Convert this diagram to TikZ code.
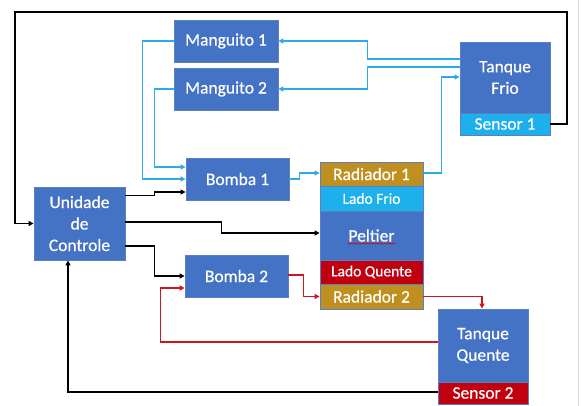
\documentclass[tikz,border=0pt]{standalone}
\usepackage{fontspec}
\setmainfont{Carlito}[FakeBold=0.5]
\usetikzlibrary{arrows.meta,calc,decorations.pathmorphing}
\definecolor{boxblue}{HTML}{4472C4}
\definecolor{boxedge}{HTML}{5B7FC2}
\definecolor{cyanfill}{HTML}{1EB0EC}
\definecolor{cyanline}{HTML}{2BACE6}
\definecolor{gold}{HTML}{BF9020}
\definecolor{redfill}{HTML}{C0000F}
\definecolor{redline}{HTML}{D0141E}
\begin{document}
\begin{tikzpicture}[x=1pt,y=-1pt,
  blk/.style={rectangle,draw=boxedge,line width=0.8pt,fill=boxblue,text=white,
    inner sep=0pt,align=center,font=\fontsize{17.5}{21.5}\selectfont},
  sub/.style={blk,font=\fontsize{15.5}{18}\selectfont},
  tip/.style={-{Triangle[length=5pt,width=5pt]}},
  ctl/.style={tip,draw=black,line width=1.6pt},
  cold/.style={tip,draw=cyanline,line width=1.4pt},
  hot/.style={tip,draw=redline,line width=1.4pt}]
\useasboundingbox (0,0) rectangle (582,406);
\fill[white] (0,0) rectangle (582,406);
\draw[gray!30,line width=0.8pt] (578,0) -- (578,406);

% blocks
\node[blk,minimum width=104,minimum height=42] (m1) at (226,41) {Manguito 1};
\node[blk,minimum width=104,minimum height=42] (m2) at (226,89) {Manguito 2};
\node[blk,minimum width=103,minimum height=42] (b1) at (237.5,179) {Bomba 1};
\node[blk,minimum width=103,minimum height=42] (b2) at (236.5,276) {Bomba 2};
\node[blk,minimum width=91,minimum height=73] (uc) at (79.5,223.5) {Unidade\\de\\Controle};

\node[blk,minimum width=90,minimum height=71] (tf) at (505,77.5) {Tanque\\Frio};
\node[blk,fill=cyanfill,minimum width=90,minimum height=22] (s1) at (505,124) {Sensor 1};
\node[blk,minimum width=90,minimum height=73] (tq) at (483,345.5) {Tanque\\Quente};
\node[blk,fill=redfill,minimum width=90,minimum height=22] (s2) at (483,393) {Sensor 2};

\node[blk,fill=gold,minimum width=103,minimum height=24] (r1) at (371.5,174) {Radiador 1};
\node[sub,fill=cyanfill,minimum width=103,minimum height=25] (lf) at (371.5,198.5) {Lado Frio};
\node[blk,minimum width=103,minimum height=49] (pel) at (371.5,235.5) {Peltier};
\node[sub,fill=redfill,minimum width=103,minimum height=24] (lq) at (371.5,272) {Lado Quente};
\node[blk,fill=gold,minimum width=103,minimum height=25] (r2) at (371.5,296.5) {Radiador 2};
\draw[red!85!black,line width=0.5pt,decorate,decoration={snake,amplitude=0.7pt,segment length=2.6pt}]
  ($(pel.center)+(-24,8)$) -- ($(pel.center)+(24,8)$);

% control lines
\coordinate (tr) at (567,12);
\coordinate (tl) at (15,12);
\draw[ctl] (s1.east) -| (tr) -- (tl) |- (uc.west);
\draw[ctl] ($(uc.east)+(0,-28)$) -- ++(29,0) |- ($(b1.west)+(0,13)$);
\draw[ctl] ($(uc.east)+(0,-1.5)$) -- ++(96,0) |- ($(pel.west)+(0,-2.5)$);
\draw[ctl] ($(uc.east)+(0,22.5)$) -- ++(29,0) |- (b2.west);
\draw[ctl] ($(s2.west)+(0,-1)$) -| ($(uc.south)+(-11.5,0)$);

% hot loop
\draw[hot] ($(b2.east)+(0,-1)$) -- ++(15,0) |- (r2.west);
\draw[hot] (r2.east) -| ($(tq.north)+(-1,0)$);
\draw[hot] ($(tq.west)+(0,-3.5)$) -- ++(-277,0) |- ($(b2.west)+(0,12)$);

% cold loop
\draw[cold] (b1.east) -- ++(10,0) |- ($(r1.west)+(0,-1)$);
\draw[cold] ($(r1.east)+(0,-1)$) -- ++(18,0) |- ($(tf.west)+(0,-0.5)$);
\draw[cold] ($(tf.west)+(0,-18.5)$) -- ++(-92,0) |- (m1.east);
\draw[cold] ($(tf.west)+(0,-10.5)$) -- ++(-92,0) |- (m2.east);
\draw[cold] (m1.west) -- ++(-31,0) |- (b1.west);
\draw[cold] (m2.west) -- ++(-19,0) |- ($(b1.west)+(0,-12)$);
\end{tikzpicture}
\end{document}
